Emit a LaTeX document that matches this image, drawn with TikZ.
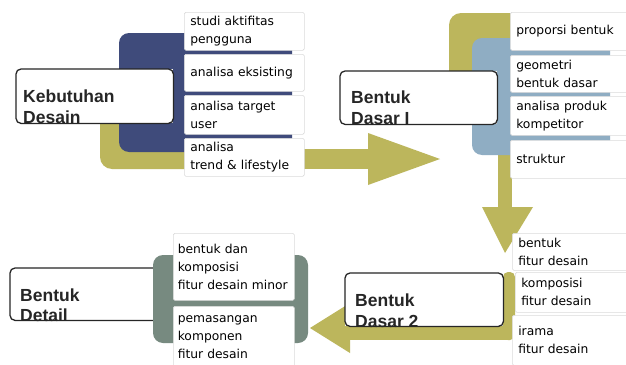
\documentclass[tikz,border=0pt]{standalone}
\usepackage{fontspec}
\newfontfamily\hdrfam{Liberation Sans}
\newfontfamily\itmfam{DejaVu Sans}
\hyphenpenalty=10000
\exhyphenpenalty=10000
\definecolor{olv}{HTML}{BCB65C}
\definecolor{nvy}{HTML}{3F4B7B}
\definecolor{lblu}{HTML}{8FADC3}
\definecolor{ggr}{HTML}{778A80}
\tikzset{
  item/.style={draw=black!14, line width=0.6pt, fill=white, rounded corners=1.5pt,
    anchor=north west, inner xsep=6pt, inner ysep=0pt, align=left,
    font=\itmfam\fontsize{12.3}{18}\selectfont},
  hdrbox/.style={fill=white, anchor=north west, inner sep=0pt},
  hdrline/.style={draw=black!85, line width=1.3pt, rounded corners=5pt},
  hdrtext/.style={anchor=base west, inner sep=0pt, font=\hdrfam\bfseries\fontsize{17.5}{20}\selectfont, text=black!85},
  block/.style={rounded corners=10pt}
}
\begin{document}
\begin{tikzpicture}[x=1pt,y=-1pt]
\useasboundingbox (0,0) rectangle (626,364);
\clip (0,0) rectangle (626,364);
\fill[white] (0,0) rectangle (626,364);
% olive flow 1
\fill[olv, rounded corners=12pt] (100,80) rectangle (250,169);
\fill[olv] (200,149) rectangle (369,169);
\fill[olv] (368,133) -- (440,159) -- (368,185) -- cycle;
% olive flow 2
\fill[olv, rounded corners=12pt] (449,13) rectangle (540,110);
\fill[olv] (498,90) rectangle (512,208);
\fill[olv] (482,207) -- (533,207) -- (505,253) -- cycle;
% olive flow 3
\fill[olv, rounded corners=5pt] (503,272) rectangle (515,340);
\fill[olv] (349,316) rectangle (510,340);
\fill[olv] (350,303) -- (310,328) -- (350,353) -- cycle;
% coloured blocks
\fill[nvy, block] (119,33) rectangle (292,152);
\fill[lblu, block] (472,38) rectangle (610,155);
% header: Kebutuhan Desain
\node[hdrbox, minimum width=157pt, minimum height=54pt] (kd) at (16,69) {};
\node[hdrtext] (kd1) at (23,102) {Kebutuhan};
\node[hdrtext] (kd2) at (23,123.5) {Desain};
\draw[hdrline] (kd.north west) rectangle (kd.south east);
% header: Bentuk Dasar I
\node[hdrbox, minimum width=157pt, minimum height=53pt] (bd1) at (340,71) {};
\node[hdrtext] (bd1a) at (351,103) {Bentuk};
\node[hdrtext] (bd1b) at (351,124.5) {Dasar I};
\draw[hdrline] (bd1.north west) rectangle (bd1.south east);
% header: Bentuk Dasar 2
\node[hdrbox, minimum width=158pt, minimum height=53pt] (bd2) at (345,273) {};
\node[hdrtext] (bd2a) at (355,306) {Bentuk};
\node[hdrtext] (bd2b) at (355,327) {Dasar 2};
\draw[hdrline] (bd2.north west) rectangle (bd2.south east);
% header: Bentuk Detail
\node[hdrbox, minimum width=160pt, minimum height=52pt] (bdt) at (10,268) {};
\node[hdrtext] (bdta) at (20,301) {Bentuk};
\node[hdrtext] (bdtb) at (20,321) {Detail};
\draw[hdrline] (bdt.north west) rectangle (bdt.south east);
\fill[ggr, block] (153,255) rectangle (308,343);
% column 1 items
\node[item, text width=108pt, minimum height=38pt] (c1a) at (184,12) {studi aktifitas\\pengguna};
\node[item, text width=108pt, minimum height=37pt] (c1b) at (184,54) {analisa eksisting};
\node[item, text width=108pt, minimum height=39pt] (c1c) at (184,95) {analisa target\\user};
\node[item, text width=108pt, minimum height=38pt] (c1d) at (184,138) {analisa\\trend \& lifestyle};
% column 2 items
\node[item, text width=108pt, minimum height=38pt] (c2a) at (510,12) {proporsi bentuk};
\node[item, text width=108pt, minimum height=37pt] (c2b) at (510,55) {geometri\\bentuk dasar};
\node[item, text width=108pt, minimum height=39pt] (c2c) at (510,96) {analisa produk\\kompetitor};
\node[item, text width=108pt, minimum height=38pt] (c2d) at (510,140) {struktur};
% column 3 items
\node[item, inner xsep=4.5pt, text width=112pt, minimum height=67pt] (c3a) at (173,233) {bentuk dan\\komposisi\\fitur desain minor};
\node[item, inner xsep=4.5pt, text width=112pt, minimum height=62pt] (c3b) at (173,306) {pemasangan\\komponen\\fitur desain};
% column 4 items
\node[item, text width=108pt, minimum height=37pt] (c4a) at (512,233) {bentuk\\fitur desain};
\node[item, text width=106pt, minimum height=40pt] (c4b) at (515,272) {komposisi\\fitur desain};
\node[item, text width=108pt, minimum height=50pt] (c4c) at (512,315) {irama\\fitur desain};
\end{tikzpicture}
\end{document}
